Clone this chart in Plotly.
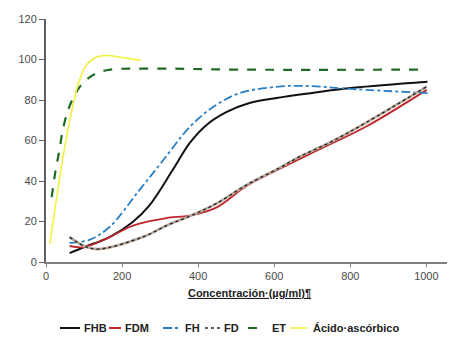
import plotly.graph_objects as go

# Data
fhb_x = [62, 101, 167, 228, 272, 333, 378, 422, 474, 535, 606, 700, 807, 1003]
fhb_y = [4.4, 7.4, 12.3, 19.8, 28, 45.4, 58.8, 67.7, 74, 78.5, 81, 83.5, 86, 89]

fdm_x = [62, 101, 167, 220, 264, 317, 385, 449, 527, 614, 693, 746, 843, 1001]
fdm_y = [7.9, 7.4, 12.3, 17.3, 19.8, 21.7, 23.2, 27, 37.5, 46, 53.3, 58, 67, 85]

fh_x = [62, 114, 167, 246, 307, 378, 439, 509, 606, 676, 807, 1003]
fh_y = [9.4, 10.9, 17.3, 35.6, 50, 66.7, 76.5, 83.4, 86.5, 87, 85.4, 83.4]

fd_x = [62, 106, 141, 254, 317, 385, 449, 527, 614, 667, 746, 843, 1001]
fd_y = [12.3, 7.4, 6.4, 12.3, 18, 23.2, 29, 38, 46.5, 52, 59, 69, 86.6]

et_x = [15, 25, 35, 45, 60, 80, 100, 130, 170, 300, 500, 1000]
et_y = [32, 45, 55, 66, 76, 84, 89, 93, 95, 95.5, 95, 95]

aa_x = [10, 25, 43, 65, 85, 105, 130, 160, 200, 250]
aa_y = [9, 28, 50, 72, 88, 97, 101, 102, 101, 99.5]

x_ticks = [0, 200, 400, 600, 800, 1000]
y_ticks = [0, 20, 40, 60, 80, 100, 120]

names = ["FHB", "FDM", "FH", "FD", "ET", "Ácido·ascórbico"]

# the page body adds an 8px offset, so the figure is sized to compensate
OFF = 8
W, H = 455 - OFF, 337 - OFF
L, R, T, B = 46 - OFF, 2, 19 - OFF, 75
PW, PH = W - L - R, H - T - B


def px_x(p):
    return (p - OFF - L) / PW


def px_y(p):
    return (H - B - (p - OFF)) / PH


fig = go.Figure()
fig.add_trace(go.Scatter(x=fhb_x, y=fhb_y, name=names[0], mode="lines",
                         line=dict(color="#111111", width=2, shape="spline")))
fig.add_trace(go.Scatter(x=fdm_x, y=fdm_y, name=names[1], mode="lines",
                         line=dict(color="#c0262b", width=1.8, shape="spline")))
fig.add_trace(go.Scatter(x=fh_x, y=fh_y, name=names[2], mode="lines",
                         line=dict(color="#2a7fc4", width=1.8, dash="dashdot", shape="spline")))
fig.add_trace(go.Scatter(x=fd_x, y=fd_y, name=names[3], mode="lines", showlegend=False,
                         line=dict(color="#b9aa9c", width=2.6, shape="spline")))
fig.add_trace(go.Scatter(x=fd_x, y=fd_y, name=names[3], mode="lines",
                         line=dict(color="#2a2522", width=1.4, dash="dot", shape="spline")))
fig.add_trace(go.Scatter(x=et_x, y=et_y, name=names[4], mode="lines",
                         line=dict(color="#1e6b26", width=2.2, dash="dash", shape="spline")))
fig.add_trace(go.Scatter(x=aa_x, y=aa_y, name=names[5], mode="lines",
                         line=dict(color="#f2ee3a", width=1.5, shape="spline")))

# Custom compact legend (layout decoration)
legend_items = [
    # name, line start px, line end px, text start px, color, dash, width
    (names[0], 60, 80, 82, "#111111", "solid", 2),
    (names[1], 109, 121, 123, "#c0262b", "solid", 2),
    (names[2], 163, 180, 183, "#2a7fc4", "dashdot", 1.8),
    (names[3], 205, 220, 222, "#6b5a50", "dot", 2),
    (names[4], 248, 266, 270, "#1e6b26", "dash", 2),
    (names[5], 290, 307, 311, "#f2ee3a", "solid", 1.5),
]
leg_y = px_y(328)
for name, x0, x1, xt, col, dash, wd in legend_items:
    fig.add_shape(type="line", xref="paper", yref="paper",
                  x0=px_x(x0), x1=px_x(x1), y0=leg_y, y1=leg_y,
                  line=dict(color=col, width=wd, dash=dash))
    fig.add_annotation(xref="paper", yref="paper", x=px_x(xt), y=leg_y,
                       xanchor="left", yanchor="middle", showarrow=False,
                       text="<b>%s</b>" % name,
                       font=dict(size=11, color="#222222",
                                 family="Liberation Sans, Arial, sans-serif"))

fig.update_layout(
    width=W, height=H,
    margin=dict(l=L, r=R, t=T, b=B),
    paper_bgcolor="white", plot_bgcolor="white",
    font=dict(family="Liberation Sans, Arial, sans-serif", color="#4a4a4a", size=11),
    showlegend=False,
    xaxis=dict(range=[0, 1070], tickvals=x_ticks, showgrid=False, zeroline=False,
               showline=True, linecolor="#808080", linewidth=2, automargin=False,
               ticks="outside", ticklen=3, tickcolor="#808080",
               title=dict(text="<b><u>Concentración·(µg/ml)¶</u></b>",
                          font=dict(size=11, color="#222222"), standoff=8)),
    yaxis=dict(range=[0, 120], tickvals=y_ticks, showgrid=False, zeroline=False,
               showline=True, linecolor="#606060", linewidth=2, automargin=False,
               ticks="outside", ticklen=5, tickcolor="#606060"),
)

fig.write_html("out.html")
